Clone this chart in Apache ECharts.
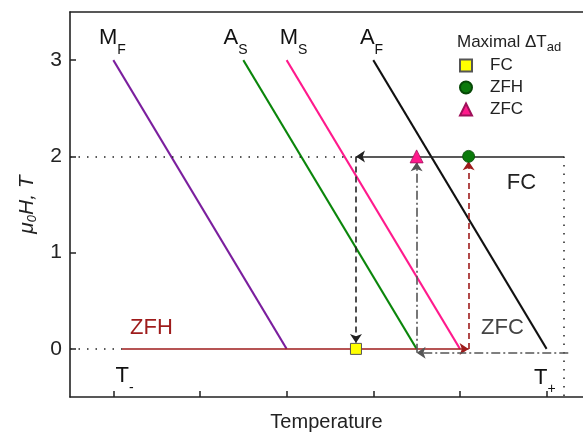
<!DOCTYPE html>
<html><head><meta charset="utf-8">
<script src="https://cdn.jsdelivr.net/npm/echarts@6/dist/echarts.min.js"></script>
<style>html,body{margin:0;padding:0;background:#fff}#c{width:583px;height:437px}</style>
</head><body><div id="c"></div>
<script>
// ---- data (temperature in arbitrary tick units, field in T) ----
const yTicks = [0, 1, 2, 3];
const xTicks = [0, 1, 2, 3, 4, 5];
const mfLine = [[0, 3], [2, 0]];
const asLine = [[1.5, 3], [3.5, 0]];
const msLine = [[2, 3], [4, 0]];
const afLine = [[3, 3], [5, 0]];
const zfhPath = [[0.1, 0], [4.1, 0]];
const zfhUp = [[4.1, 0], [4.1, 1.95]];
const fcPath = [[5.2, 2], [2.8, 2]];
const fcDown = [[2.8, 2], [2.8, 0.06]];
const zfcPath = [[5.25, -0.04], [3.5, -0.04]];
const zfcUp = [[3.5, -0.04], [3.5, 1.94]];
const guide2 = [[-0.5, 2], [2.8, 2]];
const guide0 = [[-0.5, 0], [0.1, 0]];
const guideR = [[5.2, 2], [5.2, -0.5]];
const fcMax = [[2.8, 0]];
const zfhMax = [[4.1, 2]];
const zfcMax = [[3.5, 2]];
const lineLabels = [
  ['M', 'F', -0.01, 3.19],
  ['A', 'S', 1.41, 3.19],
  ['M', 'S', 2.08, 3.19],
  ['A', 'F', 2.98, 3.19],
  ['T', '-', 0.13, -0.32],
  ['T', '+', 4.98, -0.34]
];
const pathLabels = [
  ['ZFH', 0.44, 0.22, '#9e1b1b'],
  ['ZFC', 4.49, 0.22, '#444'],
  ['FC', 4.71, 1.72, '#222']
];

const FONT = 'Liberation Sans, Arial, sans-serif';
const chart = echarts.init(document.getElementById('c'));

function seg(name, pts, color, width, type, arrow) {
  return {
    type: 'lines', coordinateSystem: 'cartesian2d', name: name, polyline: false,
    symbol: arrow ? ['none', 'arrow'] : ['none', 'none'], symbolSize: 9,
    lineStyle: { color: color, width: width, type: type, opacity: 1 },
    data: [{ coords: pts }], z: 3, silent: true
  };
}
function tline(pts, color) {
  return { type: 'line', data: pts, showSymbol: false, lineStyle: { color: color, width: 2 }, z: 2, silent: true };
}

const subRich = {
  b: { fontSize: 22, color: '#111', fontFamily: FONT, verticalAlign: 'bottom', padding: [0, 0, 8, 0] },
  s: { fontSize: 14, color: '#111', fontFamily: FONT, verticalAlign: 'bottom' }
};

const series = [
  seg('g2', guide2, '#222', 1.5, [1.5, 7], false),
  seg('g0', guide0, '#222', 1.5, [1.5, 7], false),
  seg('gR', guideR, '#222', 1.5, [1.5, 7], false),
  tline(mfLine, '#7b1f9e'),
  tline(asLine, '#0b860b'),
  tline(msLine, '#ff1a8c'),
  tline(afLine, '#111'),
  seg('zfh', zfhPath, '#9e1b1b', 1.6, 'solid', true),
  seg('zfhUp', zfhUp, '#9e1b1b', 1.6, [6, 4], true),
  seg('fc', fcPath, '#222', 1.6, 'solid', true),
  seg('fcDown', fcDown, '#222', 1.6, [6, 4], true),
  seg('zfc', zfcPath, '#555', 1.6, [9, 3, 2, 3], true),
  seg('zfcUp', zfcUp, '#555', 1.6, [9, 3, 2, 3], true),
  { type: 'scatter', name: 'FC', data: fcMax, symbol: 'rect', symbolSize: 11,
    itemStyle: { color: '#ffff00', borderColor: '#555', borderWidth: 1, opacity: 1 }, z: 5 },
  { type: 'scatter', name: 'ZFH', data: zfhMax, symbol: 'circle', symbolSize: 12,
    itemStyle: { color: '#0b7a0b', borderColor: '#064806', borderWidth: 0.8, opacity: 1 }, z: 5 },
  { type: 'scatter', name: 'ZFC', data: zfcMax, symbol: 'triangle', symbolSize: 13,
    itemStyle: { color: '#ff1a8c', borderColor: '#a0105a', borderWidth: 0.8, opacity: 1 }, z: 5 },
  { type: 'scatter', data: lineLabels.map(l => ({ value: [l[2], l[3]], main: l[0], sub: l[1] })),
    symbolSize: 0, silent: true, z: 6, itemStyle: { opacity: 1 },
    label: { show: true, position: 'inside', formatter: p => '{b|' + p.data.main + '}{s|' + p.data.sub + '}', rich: subRich } },
  { type: 'scatter', data: pathLabels.map(l => ({ value: [l[1], l[2]], name: l[0], label: { color: l[3] } })),
    symbolSize: 0, silent: true, z: 6, itemStyle: { opacity: 1 },
    label: { show: true, position: 'inside', formatter: p => p.name, fontSize: 22, fontFamily: FONT } }
];

const axisLineStyle = { color: '#222', width: 1.6 };

chart.setOption({
  animation: false,
  backgroundColor: '#fff',
  title: {
    text: 'Maximal ΔT{s|ad}', left: 452, top: 26,
    textStyle: { fontSize: 17, fontWeight: 'normal', color: '#222', fontFamily: FONT,
      rich: { s: { fontSize: 13, color: '#222', fontFamily: FONT, padding: [10, 0, 0, 0] } } }
  },
  legend: {
    data: ['FC', 'ZFH', 'ZFC'], orient: 'vertical', left: 454, top: 52,
    itemWidth: 12, itemHeight: 12, itemGap: 5,
    textStyle: { fontSize: 17, color: '#222', fontFamily: FONT, padding: [0, 0, 0, 13] }
  },
  grid: { left: 70, right: 0, top: 12, bottom: 37, show: false },
  xAxis: [{
    type: 'value', min: -0.5, max: 5.42,
    name: 'Temperature', nameLocation: 'middle', nameGap: 15,
    nameTextStyle: { fontSize: 20, color: '#222', fontFamily: FONT, padding: [0, 0, 0, 0] },
    axisLine: { show: true, onZero: false, lineStyle: axisLineStyle },
    axisTick: { show: true, inside: true, length: 6, customValues: xTicks, lineStyle: { color: '#222', width: 1.5 } },
    axisLabel: { show: false },
    splitLine: { show: false }
  }, {
    type: 'value', min: -0.5, max: 5.42, position: 'top',
    axisLine: { show: true, onZero: false, lineStyle: axisLineStyle },
    axisTick: { show: false }, axisLabel: { show: false }, splitLine: { show: false }
  }],
  yAxis: {
    type: 'value', min: -0.5, max: 3.5,
    name: 'μ{s|0}H, T', nameLocation: 'middle', nameGap: 31, nameRotate: 90,
    nameTextStyle: { fontSize: 21, fontStyle: 'italic', color: '#222', fontFamily: FONT,
      rich: { s: { fontSize: 13, fontStyle: 'italic', color: '#222', fontFamily: FONT, padding: [10, 0, 0, 0] } } },
    axisLine: { show: true, onZero: false, lineStyle: axisLineStyle },
    axisTick: { show: true, inside: true, length: 6, customValues: yTicks, lineStyle: { color: '#222', width: 1.5 } },
    axisLabel: { show: true, customValues: yTicks, fontSize: 21, color: '#222', fontFamily: FONT, margin: 8 },
    splitLine: { show: false }
  },
  series: series
});
</script>
</body></html>
